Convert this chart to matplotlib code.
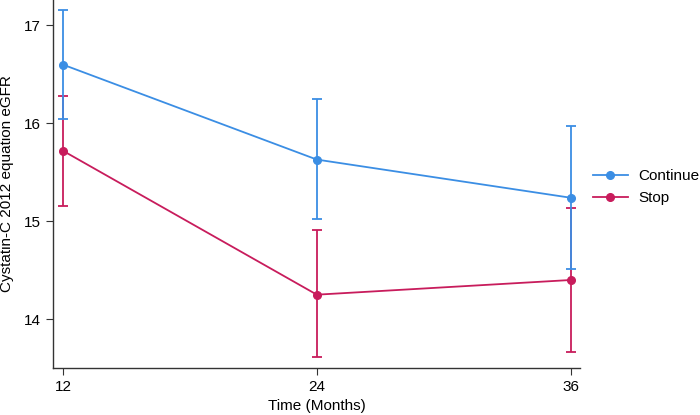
import matplotlib.pyplot as plt
from matplotlib.lines import Line2D

plt.rcParams["font.family"] = ["Liberation Sans", "DejaVu Sans"]

months = [12, 24, 36]
groups = ["Continue", "Stop"]

continue_mean = [16.60, 15.63, 15.24]
continue_lower = [16.04, 15.02, 14.51]
continue_upper = [17.16, 16.25, 15.97]

stop_mean = [15.72, 14.25, 14.40]
stop_lower = [15.16, 13.61, 13.66]
stop_upper = [16.28, 14.91, 15.14]

colors = {"Continue": "#3b8ee4", "Stop": "#c81c5c"}


def main() -> None:
    fig = plt.figure(figsize=(7, 4.15), dpi=100)
    ax = fig.add_axes([0.0757, 0.113, 0.753, 0.887])

    series = {
        "Continue": (continue_mean, continue_lower, continue_upper),
        "Stop": (stop_mean, stop_lower, stop_upper),
    }
    # draw Stop first so Continue sits on top, as in the source
    for name in ["Stop", "Continue"]:
        mean, lo, hi = series[name]
        err = [[m - l for m, l in zip(mean, lo)], [h - m for m, h in zip(mean, hi)]]
        ax.errorbar(months, mean, yerr=err, color=colors[name], lw=1.3,
                    elinewidth=1.3, capsize=3.5, capthick=1.3, marker="o",
                    markersize=5.5)

    ax.set_xlim(11.53, 36.44)
    ax.set_ylim(13.5, 17.26)
    ax.set_xticks(months)
    ax.set_yticks([14, 15, 16, 17])
    ax.tick_params(labelsize=11, length=5, color="#333333", direction="out")
    for side in ["top", "right"]:
        ax.spines[side].set_visible(False)
    for side in ["left", "bottom"]:
        ax.spines[side].set_color("#333333")
        ax.spines[side].set_linewidth(1.0)

    ax.set_xlabel("Time (Months)", fontsize=11, labelpad=4)
    ax.set_ylabel("Cystatin-C 2012 equation eGFR", fontsize=11, labelpad=7)

    # legend keys are plain line + marker, no error bar
    handles = [Line2D([], [], color=colors[g], lw=1.3, marker="o", markersize=5.5)
               for g in groups]
    fig.legend(handles, groups, loc="upper left", bbox_to_anchor=(0.847, 0.593),
               frameon=False, fontsize=11, handlelength=2.3, handletextpad=0.7,
               labelspacing=0.55, borderpad=0, borderaxespad=0)

    fig.savefig("out.png", dpi=100)
    plt.close(fig)


if __name__ == "__main__":
    main()
